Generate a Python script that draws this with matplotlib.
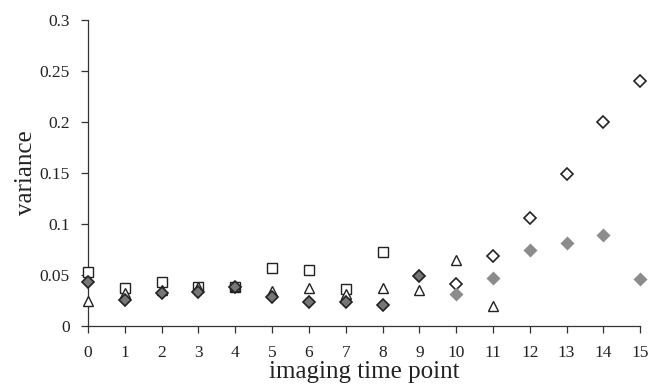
import matplotlib
matplotlib.use("Agg")
import matplotlib.pyplot as plt

plt.rcParams["font.family"] = ["Liberation Serif", "DejaVu Serif"]

# time points for each series
x_squares = [0, 1, 2, 3, 4, 5, 6, 7, 8]
y_squares = [0.053, 0.037, 0.043, 0.038, 0.038, 0.057, 0.055, 0.036, 0.072]

x_triangles = [0, 1, 2, 3, 4, 5, 6, 7, 8, 9, 10, 11]
y_triangles = [0.024, 0.032, 0.035, 0.038, 0.039, 0.034, 0.037, 0.031, 0.037, 0.035, 0.065, 0.019]

x_dark = [0, 1, 2, 3, 4, 5, 6, 7, 8, 9]
y_dark = [0.043, 0.025, 0.032, 0.033, 0.038, 0.028, 0.023, 0.023, 0.020, 0.049]

x_open_dia = [10, 11, 12, 13, 14, 15]
y_open_dia = [0.041, 0.069, 0.106, 0.149, 0.200, 0.240]

x_light = [10, 11, 12, 13, 14, 15]
y_light = [0.031, 0.047, 0.074, 0.081, 0.089, 0.046]

xticks = list(range(16))
yticks = [0, 0.05, 0.1, 0.15, 0.2, 0.25, 0.3]
ytick_labels = ["0", "0.05", "0.1", "0.15", "0.2", "0.25", "0.3"]

fig = plt.figure(figsize=(6.52, 3.87), dpi=100)
ax = fig.add_axes([0.135, 0.158, 0.847, 0.79])

kw = dict(linestyle="none", clip_on=False, zorder=3)
ax.plot(x_squares, y_squares, marker="s", markersize=7, markerfacecolor="white",
        markeredgecolor="#222222", markeredgewidth=1.0, **kw)
ax.plot(x_triangles, y_triangles, marker="^", markersize=7.5, markerfacecolor="white",
        markeredgecolor="#222222", markeredgewidth=1.0, **kw)
ax.plot(x_dark, y_dark, marker="D", markersize=6.5, markerfacecolor="#767676",
        markeredgecolor="#222222", markeredgewidth=1.2, **kw)
ax.plot(x_open_dia, y_open_dia, marker="D", markersize=6.5, markerfacecolor="white",
        markeredgecolor="#222222", markeredgewidth=1.2, **kw)
ax.plot(x_light, y_light, marker="D", markersize=7, markerfacecolor="#8c8c8c",
        markeredgecolor="none", **kw)

ax.set_xlim(0, 15)
ax.set_ylim(0, 0.3)
ax.set_xticks(xticks)
ax.set_yticks(yticks)
ax.set_yticklabels(ytick_labels)

for s in ["top", "right"]:
    ax.spines[s].set_visible(False)
for s in ["left", "bottom"]:
    ax.spines[s].set_color("#333333")
    ax.spines[s].set_linewidth(0.9)

ax.tick_params(direction="out", length=5, width=0.9, colors="#333333",
               labelsize=12.5, labelcolor="#222222")
ax.tick_params(axis="x", pad=9)
ax.tick_params(axis="y", pad=8)

ax.set_xlabel("imaging time point", fontsize=18, color="#222222", labelpad=0)
ax.set_ylabel("variance", fontsize=18, color="#222222", labelpad=2)

fig.savefig("out.png", dpi=100)
